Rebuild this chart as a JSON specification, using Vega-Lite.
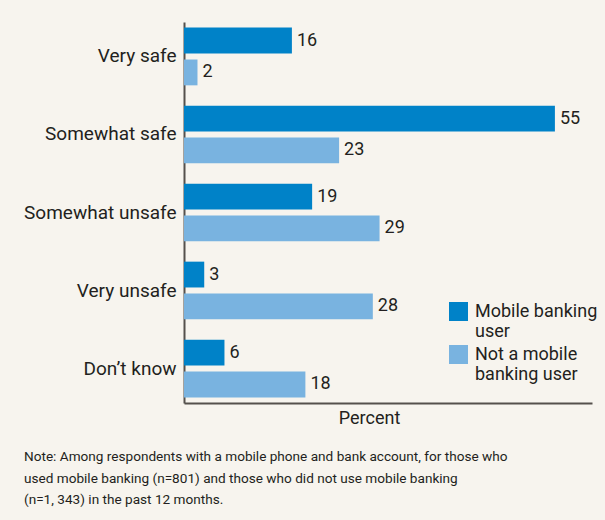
{
  "$schema": "https://vega.github.io/schema/vega-lite/v6.json",
  "autosize": {"type": "none"},
  "width": 408,
  "height": 381,
  "padding": {"left": 184, "top": 22, "right": 13, "bottom": 117},
  "background": "#f7f4ee",
  "config": {
    "view": {"stroke": null},
    "font": "Roboto",
    "text": {"font": "Roboto"}
  },
  "title": {
    "text": ["Note: Among respondents with a mobile phone and bank account, for those who", "used mobile banking (n=801) and those who did not use mobile banking", "(n=1, 343) in the past 12 months."],
    "orient": "bottom",
    "anchor": "start",
    "frame": "group",
    "dx": -160,
    "offset": 23,
    "fontSize": 13.6,
    "fontWeight": "normal",
    "lineHeight": 21.5,
    "color": "#231f20",
    "font": "Roboto"
  },
  "data": {
    "values": [
      {"category": "Very safe", "group": "Mobile banking user", "value": 16},
      {"category": "Very safe", "group": "Not a mobile banking user", "value": 2},
      {"category": "Somewhat safe", "group": "Mobile banking user", "value": 55},
      {"category": "Somewhat safe", "group": "Not a mobile banking user", "value": 23},
      {"category": "Somewhat unsafe", "group": "Mobile banking user", "value": 19},
      {"category": "Somewhat unsafe", "group": "Not a mobile banking user", "value": 29},
      {"category": "Very unsafe", "group": "Mobile banking user", "value": 3},
      {"category": "Very unsafe", "group": "Not a mobile banking user", "value": 28},
      {"category": "Don’t know", "group": "Mobile banking user", "value": 6},
      {"category": "Don’t know", "group": "Not a mobile banking user", "value": 18}
    ]
  },
  "encoding": {
    "y": {
      "field": "category",
      "type": "nominal",
      "sort": ["Very safe", "Somewhat safe", "Somewhat unsafe", "Very unsafe", "Don’t know"],
      "scale": {"paddingInner": 0.26, "paddingOuter": 0.072},
      "axis": {
        "title": null,
        "ticks": false,
        "domainColor": "#55504c",
        "domainWidth": 2,
        "labelFontSize": 19,
        "labelColor": "#231f20",
        "labelPadding": 8,
        "labelFont": "Roboto",
        "labelLimit": 300
      }
    },
    "yOffset": {
      "field": "group",
      "type": "nominal",
      "sort": ["Mobile banking user", "Not a mobile banking user"],
      "scale": {"paddingInner": 0.19, "paddingOuter": 0}
    },
    "x": {
      "field": "value",
      "type": "quantitative",
      "scale": {"domain": [0, 60.5], "nice": false},
      "axis": {
        "title": "Percent",
        "grid": false,
        "ticks": false,
        "labels": false,
        "domainColor": "#55504c",
        "domainWidth": 2,
        "titleFontSize": 18,
        "titleFontWeight": "normal",
        "titleColor": "#231f20",
        "titleFont": "Roboto",
        "titleX": 185,
        "titlePadding": 6
      }
    }
  },
  "layer": [
    {
      "mark": {"type": "bar"},
      "encoding": {
        "color": {
          "field": "group",
          "type": "nominal",
          "sort": ["Mobile banking user", "Not a mobile banking user"],
          "scale": {"domain": ["Mobile banking user", "Not a mobile banking user"], "range": ["#0082c8", "#79b3e0"]},
          "legend": {
            "title": null,
            "orient": "none",
            "legendX": 265,
            "legendY": 280,
            "symbolType": "square",
            "symbolSize": 361,
            "symbolStrokeWidth": 0,
            "labelFontSize": 18,
            "labelColor": "#231f20",
            "labelFont": "Roboto",
            "labelOffset": 7,
            "labelLimit": 200,
            "rowPadding": 4,
            "labelExpr": "datum.label == 'Mobile banking user' ? ['Mobile banking', 'user'] : ['Not a mobile', 'banking user']"
          }
        }
      }
    },
    {
      "mark": {"type": "text", "align": "left", "baseline": "middle", "dx": 5, "fontSize": 18, "color": "#231f20"},
      "encoding": {
        "text": {"field": "value", "type": "quantitative"}
      }
    }
  ]
}
